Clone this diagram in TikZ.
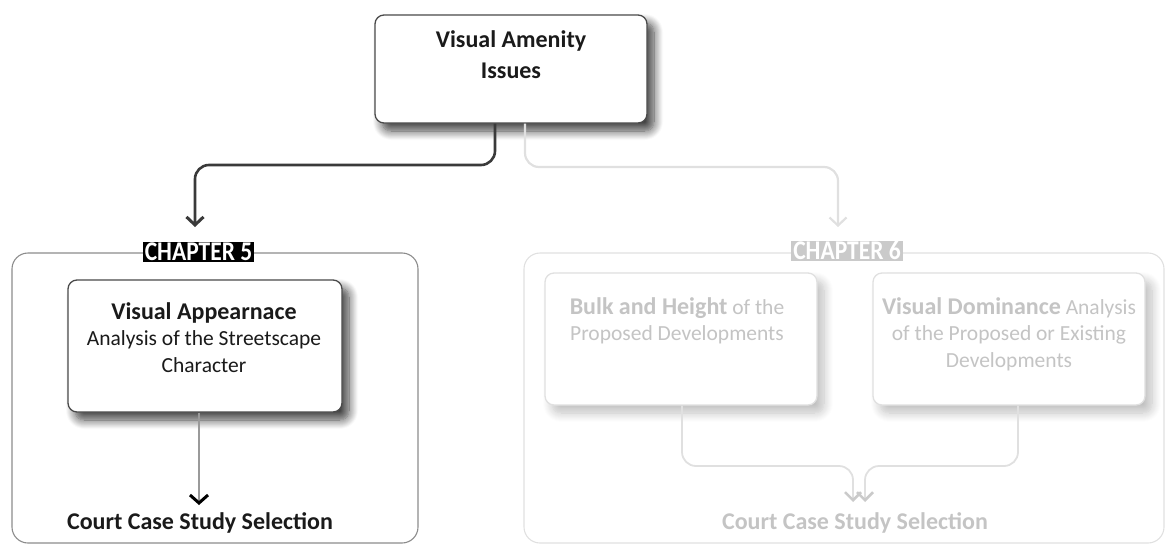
\documentclass[tikz,border=0pt]{standalone}
\usepackage{fontspec}
\setmainfont{Carlito}
\usetikzlibrary{arrows.meta,shadows.blur}

\definecolor{ink}{HTML}{1A1A1A}
\definecolor{edge}{HTML}{4A4A4A}
\definecolor{framegray}{HTML}{8C8C8C}
\definecolor{linkdark}{HTML}{3A3A3A}
\definecolor{linkgray}{HTML}{9A9A9A}
\definecolor{faintline}{HTML}{E0E0E0}
\definecolor{fainttext}{HTML}{C4C4C4}
\definecolor{faintfill}{HTML}{CACACA}

\tikzset{
  card/.style={draw=edge, line width=1.3pt, fill=white, rounded corners=9pt,
    blur shadow={shadow xshift=7pt, shadow yshift=-8pt,
      shadow blur radius=9pt, shadow blur steps=10, shadow opacity=75}},
  faintcard/.style={draw=faintline, line width=1.3pt, fill=white, rounded corners=9pt,
    blur shadow={shadow xshift=7pt, shadow yshift=-8pt,
      shadow blur radius=9pt, shadow blur steps=10, shadow opacity=25}},
  frame/.style={draw=framegray, line width=1.1pt, rounded corners=16pt},
  faintframe/.style={draw=faintline, line width=1.1pt, rounded corners=16pt},
  cardtext/.style={inner sep=0pt, align=center, text=ink, anchor=north,
    font=\fontsize{21.5}{26.5}\selectfont},
  fainttextnode/.style={cardtext, text=fainttext},
  chaptag/.style={inner xsep=2pt, inner ysep=1pt, text=white,
    font=\fontsize{27}{27}\selectfont\bfseries, text height=17pt, text depth=1pt},
  result/.style={inner sep=0pt, anchor=base, font=\fontsize{24}{28}\selectfont\bfseries},
  barb/.style={-{Straight Barb[length=8pt, width=17pt, line width=3pt]}},
}

\begin{document}
\begin{tikzpicture}[x=1pt, y=-1pt]
  \useasboundingbox (0,0) rectangle (1168,546);

  % chapter frames
  \draw[frame] (12,253) rectangle (418,543);
  \draw[faintframe] (524,253) rectangle (1164,543);

  % top issue card
  \node[card, minimum width=272pt, minimum height=108pt] (issues) at (511,69) {};
  \node[cardtext, font=\fontsize{24}{31}\selectfont\bfseries] (issuesT) at (511,30)
    {Visual Amenity\\Issues};

  % chapter 5 card
  \node[card, minimum width=274pt, minimum height=132pt] (appear) at (205,346) {};
  \node[cardtext] (appearT) at (204,302)
    {{\fontsize{24}{26.5}\selectfont\bfseries Visual Appearnace}\\
     Analysis of the Streetscape\\Character};

  % chapter 6 cards
  \node[faintcard, minimum width=272pt, minimum height=132pt] (bulk) at (681,339) {};
  \node[fainttextnode] (bulkT) at (677,297)
    {{\fontsize{24}{26.5}\selectfont\bfseries Bulk and Height} of the\\
     Proposed Developments};
  \node[faintcard, minimum width=272pt, minimum height=132pt] (domin) at (1009,339) {};
  \node[fainttextnode] (dominT) at (1009,297)
    {{\fontsize{24}{26.5}\selectfont\bfseries Visual Dominance} Analysis\\
     of the Proposed or Existing\\Developments};

  % chapter tags
  \node[chaptag, fill=black] (c5) at (198.5,252) {\scalebox{0.87}[1]{CHAPTER 5}};
  \node[chaptag, fill=faintfill] (c6) at (847,251) {\scalebox{0.87}[1]{CHAPTER 6}};

  % results
  \node[result, text=ink] (sel5) at (200,529) {Court Case Study Selection};
  \node[result, text=fainttext] (sel6) at (855,529) {Court Case Study Selection};

  % connector end points
  \coordinate (t5) at (195,227);
  \coordinate (t6) at (838,227);
  \coordinate (s5) at (199,505);
  \coordinate (s6a) at (853,502);
  \coordinate (s6b) at (865,502);

  % connectors from the issue card
  \draw[linkdark, line width=2.6pt, rounded corners=14pt, barb]
    (issues.south -| 495,0) -- (495,165) -- (195,165) -- (t5);
  \draw[faintline, line width=2.2pt, rounded corners=14pt,
        -{Straight Barb[length=8pt, width=17pt, line width=2.2pt]}]
    (issues.south -| 525,0) -- (525,167) -- (838,167) -- (t6);

  % chapter 5 link
  \draw[linkgray, line width=1.8pt,
        -{Straight Barb[length=8pt, width=18pt, line width=3pt, color=black]}]
    (appear.south -| s5) -- (s5);

  % chapter 6 merging links
  \draw[faintline, line width=1.8pt, rounded corners=14pt,
        -{Straight Barb[length=8pt, width=16pt, line width=2.5pt, color=faintfill]}]
    (bulk.south -| 682,0) -- (682,466) -- (853,466) -- (s6a);
  \draw[faintline, line width=1.8pt, rounded corners=14pt,
        -{Straight Barb[length=8pt, width=16pt, line width=2.5pt, color=faintfill]}]
    (domin.south -| 1018,0) -- (1018,466) -- (865,466) -- (s6b);
\end{tikzpicture}
\end{document}
